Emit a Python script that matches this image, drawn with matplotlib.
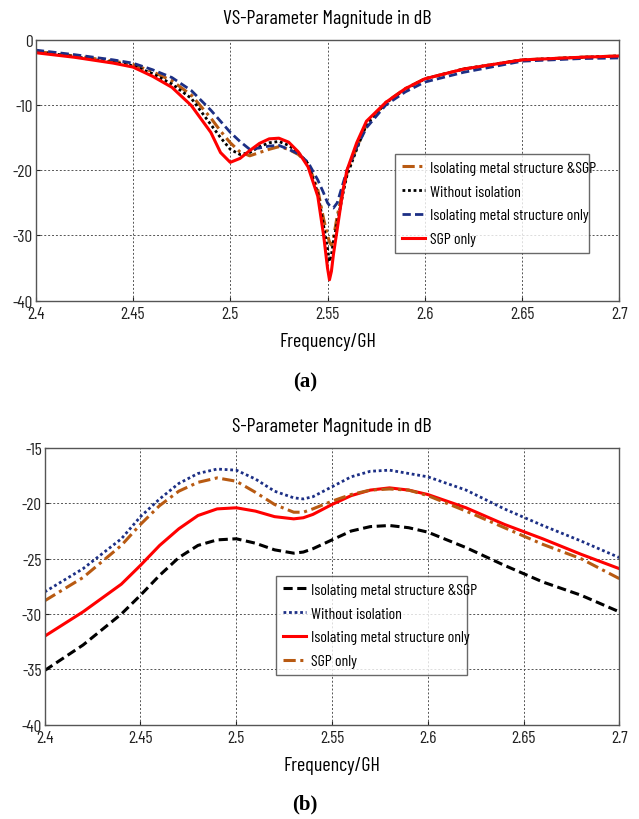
import matplotlib
matplotlib.use("Agg")
import matplotlib.pyplot as plt
from matplotlib import font_manager

# ---- panel (a): VS-parameter data ----
freq_a = [2.40, 2.42, 2.44, 2.45, 2.46, 2.47, 2.48, 2.49, 2.495, 2.50, 2.505, 2.51,
          2.515, 2.52, 2.525, 2.53, 2.535, 2.54, 2.545, 2.548, 2.55, 2.551, 2.552,
          2.553, 2.555, 2.558, 2.56, 2.565, 2.57, 2.58, 2.59, 2.60, 2.62, 2.65, 2.68, 2.70]

vs_both = [-1.8, -2.5, -3.3, -3.8, -4.9, -6.3, -8.5, -12.0, -14.0, -15.8, -17.2, -17.8,
           -17.3, -16.8, -16.4, -16.8, -17.6, -19.0, -23.0, -27.5, -30.0, -31.0, -31.5,
           -30.5, -27.0, -23.0, -20.5, -16.5, -13.0, -9.6, -7.5, -6.0, -4.5, -3.1, -2.7, -2.5]

vs_none = [-1.8, -2.6, -3.5, -4.0, -5.2, -6.8, -9.0, -13.0, -15.0, -16.8, -17.6, -17.3,
           -16.4, -15.8, -15.6, -16.2, -17.3, -19.0, -23.5, -28.5, -32.0, -34.0, -33.0,
           -31.0, -28.0, -23.5, -20.8, -16.8, -13.0, -9.7, -7.6, -6.0, -4.5, -3.1, -2.7, -2.5]

vs_metal = [-1.6, -2.3, -3.1, -3.6, -4.6, -5.8, -7.8, -10.8, -12.5, -14.2, -15.6, -16.8,
            -16.6, -16.3, -16.2, -16.8, -17.5, -18.8, -21.5, -23.5, -25.0, -25.4, -25.7,
            -25.8, -25.0, -22.0, -20.0, -16.5, -13.5, -10.0, -8.0, -6.5, -5.0, -3.3, -2.9, -2.8]

vs_sgp = [-2.0, -2.7, -3.6, -4.2, -5.6, -7.3, -10.1, -14.2, -17.3, -18.8, -18.2, -17.0,
          -15.9, -15.2, -15.1, -15.7, -17.2, -19.5, -24.0, -30.0, -35.0, -36.8, -35.5,
          -33.0, -29.0, -23.0, -20.0, -15.8, -12.5, -9.6, -7.5, -6.0, -4.5, -3.1, -2.7, -2.5]

# ---- panel (b): S-parameter data ----
freq_b = [2.40, 2.42, 2.44, 2.45, 2.46, 2.47, 2.48, 2.49, 2.50, 2.51, 2.52, 2.53, 2.535,
          2.54, 2.55, 2.56, 2.57, 2.58, 2.59, 2.60, 2.62, 2.64, 2.66, 2.68, 2.70]

s_both = [-35.1, -32.8, -30.0, -28.3, -26.5, -24.9, -23.8, -23.3, -23.2, -23.6, -24.2, -24.5,
          -24.4, -24.1, -23.3, -22.5, -22.1, -22.0, -22.2, -22.6, -24.0, -25.6, -27.1, -28.3, -29.8]

s_none = [-28.0, -25.9, -23.2, -21.2, -19.6, -18.2, -17.3, -16.9, -17.0, -17.8, -18.9, -19.5,
          -19.6, -19.4, -18.5, -17.6, -17.1, -17.0, -17.3, -17.6, -18.8, -20.5, -22.0, -23.4, -24.9]

s_metal = [-32.0, -29.8, -27.3, -25.6, -23.8, -22.3, -21.1, -20.5, -20.4, -20.7, -21.2, -21.4,
           -21.3, -21.0, -20.1, -19.3, -18.8, -18.6, -18.8, -19.2, -20.4, -21.9, -23.2, -24.6, -25.9]

s_sgp = [-28.8, -26.7, -23.8, -21.9, -20.2, -18.9, -18.1, -17.7, -18.0, -19.0, -20.1, -20.8,
         -20.8, -20.5, -19.8, -19.2, -18.8, -18.7, -18.8, -19.3, -20.7, -22.2, -23.7, -25.0, -26.8]

labels = ["Isolating metal structure &SGP", "Without isolation",
          "Isolating metal structure only", "SGP only"]
x_ticks = [2.4, 2.45, 2.5, 2.55, 2.6, 2.65, 2.7]
x_ticklabels = ["2.4", "2.45", "2.5", "2.55", "2.6", "2.65", "2.7"]

RED = "#ff0000"
BROWN = "#b85a12"
NAVY = "#1c2f85"

# narrow sans font like the MATLAB export, pick the first one present
have = set(f.name for f in font_manager.fontManager.ttflist)
narrow = "Liberation Sans"
for cand in ["Liberation Sans Narrow", "Arial Narrow", "Barlow Condensed",
             "Fira Sans Extra Condensed", "Roboto Condensed", "PT Sans Narrow",
             "Archivo Narrow"]:
    if cand in have:
        narrow = cand
        break
plt.rcParams['font.family'] = [narrow, 'DejaVu Sans']

fig = plt.figure(figsize=(6.39, 8.2), dpi=100)


def style_axes(ax, yticks):
    ax.set_xlim(2.4, 2.7)
    ax.set_xticks(x_ticks)
    ax.set_xticklabels(x_ticklabels)
    ax.set_yticks(yticks)
    ax.set_yticklabels([str(v) for v in yticks])
    ax.grid(True, linestyle=(0, (2, 2)), color="#555555", linewidth=0.7)
    ax.tick_params(direction="in", length=3, labelsize=12.5, colors="#222222")
    ax.tick_params(axis="x", pad=4)
    ax.tick_params(axis="y", pad=2)
    for s in ax.spines.values():
        s.set_color("#555555")
        s.set_linewidth(1.0)
    ax.set_xlabel("Frequency/GH", fontsize=14.5, labelpad=8)


def add_legend(ax, x0, y0, x1, y1):
    leg = ax.legend(loc="upper left",
                    bbox_to_anchor=(x0 / 639, 1 - y1 / 820, (x1 - x0) / 639, (y1 - y0) / 820),
                    mode="expand", bbox_transform=fig.transFigure, fontsize=11.5,
                    frameon=True, fancybox=False, edgecolor="#444444",
                    handlelength=1.45, handletextpad=0.35, labelspacing=0.6,
                    borderpad=0.42, borderaxespad=0)
    leg.get_frame().set_linewidth(1.0)
    return leg


# panel (a)
ax1 = fig.add_axes([0.0559, 0.6321, 0.9133, 0.3183])
ax1.plot(freq_a, vs_both, color=BROWN, linestyle=(0, (4, 1.5, 1, 1.5)), linewidth=2.2, label=labels[0])
ax1.plot(freq_a, vs_none, color="black", linestyle=(0, (1, 1)), linewidth=2.0, label=labels[1])
ax1.plot(freq_a, vs_metal, color=NAVY, linestyle=(0, (3, 1.5)), linewidth=2.0, label=labels[2])
ax1.plot(freq_a, vs_sgp, color=RED, linestyle="-", linewidth=2.2, label=labels[3])
ax1.set_ylim(-40, 0)
style_axes(ax1, [-40, -30, -20, -10, 0])
ax1.set_title("VS-Parameter Magnitude in dB", fontsize=14.5, pad=12)
add_legend(ax1, 395, 155, 589, 255)
fig.text(305 / 639, 1 - 382 / 820, "(a)", ha="center", va="center", fontsize=15,
         fontweight="bold", family="Liberation Serif")

# panel (b)
ax2 = fig.add_axes([0.0700, 0.1150, 0.8992, 0.3374])
ax2.plot(freq_b, s_both, color="black", linestyle=(0, (3, 1.5)), linewidth=2.2, label=labels[0])
ax2.plot(freq_b, s_none, color=NAVY, linestyle=(0, (1, 1)), linewidth=2.0, label=labels[1])
ax2.plot(freq_b, s_metal, color=RED, linestyle="-", linewidth=2.2, label=labels[2])
ax2.plot(freq_b, s_sgp, color=BROWN, linestyle=(0, (4, 1.5, 1, 1.5)), linewidth=2.2, label=labels[3])
ax2.set_ylim(-40, -15)
style_axes(ax2, [-40, -35, -30, -25, -20, -15])
ax2.set_title("S-Parameter Magnitude in dB", fontsize=14.5, pad=12)
add_legend(ax2, 276, 577, 467, 681)
fig.text(305 / 639, 1 - 804 / 820, "(b)", ha="center", va="center", fontsize=15,
         fontweight="bold", family="Liberation Serif")

fig.savefig("out.png", dpi=100)
